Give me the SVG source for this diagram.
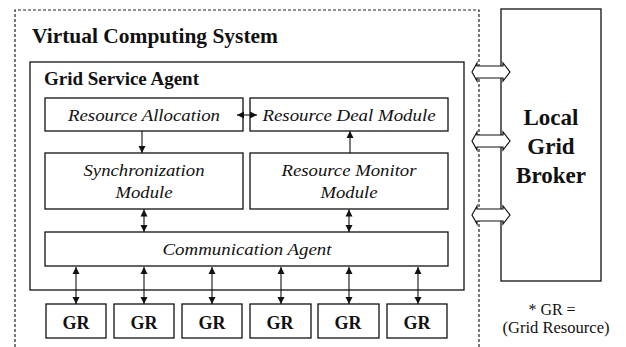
<svg xmlns="http://www.w3.org/2000/svg" width="626" height="347" viewBox="0 0 626 347">
<style>
.box{fill:#fff;stroke:#111;stroke-width:1.3}
.dash{fill:none;stroke:#222;stroke-width:1.2;stroke-dasharray:3,2}
.con{fill:none;stroke:#111;stroke-width:1.1}
.hol{fill:#fff;stroke:#111;stroke-width:1.2;stroke-linejoin:miter}
text{font-family:"Liberation Serif","Times New Roman",serif;fill:#111}
.it{font-style:italic;font-size:16px;text-anchor:middle}
.bd{font-weight:bold}
.gr{font-weight:bold;font-size:18px;text-anchor:middle}
.lgb{font-weight:bold;font-size:23px;text-anchor:middle}
.rg{font-size:16px;text-anchor:middle}
</style>
<defs>
<marker id="ah" markerUnits="userSpaceOnUse" markerWidth="8" markerHeight="8" refX="7" refY="3.5" orient="auto-start-reverse" viewBox="0 0 8 7">
<path d="M0,0 L7,3.5 L0,7 z" fill="#111"/>
</marker>
</defs>
<rect width="626" height="347" fill="#fff"/>

<g id="virtual-computing-system">
<path class="dash" d="M15,347 L15,10 L479,10 L479,347"/>
<text class="bd" x="32" y="43" font-size="21" textLength="246" lengthAdjust="spacingAndGlyphs">Virtual Computing System</text>
</g>

<g id="local-grid-broker">
<rect class="box" x="501" y="9" width="100" height="272"/>
<text class="lgb" x="551" y="125">Local</text>
<text class="lgb" x="551" y="154">Grid</text>
<text class="lgb" x="551" y="183">Broker</text>
</g>

<g id="grid-service-agent">
<rect class="box" x="30" y="62" width="434" height="228"/>
<text class="bd" x="44" y="85" font-size="18" textLength="155" lengthAdjust="spacingAndGlyphs">Grid Service Agent</text>
</g>

<g id="resource-allocation">
<rect class="box" x="45" y="98" width="198" height="33"/>
<text class="it" x="144" y="121" textLength="152" lengthAdjust="spacingAndGlyphs">Resource Allocation</text>
</g>

<g id="resource-deal-module">
<rect class="box" x="250" y="98" width="198" height="33"/>
<text class="it" x="349" y="121" textLength="173" lengthAdjust="spacingAndGlyphs">Resource Deal Module</text>
</g>

<g id="synchronization-module">
<rect class="box" x="45" y="153" width="198" height="56"/>
<text class="it" x="144" y="176" textLength="121" lengthAdjust="spacingAndGlyphs">Synchronization</text>
<text class="it" x="144" y="198" textLength="57" lengthAdjust="spacingAndGlyphs">Module</text>
</g>

<g id="resource-monitor-module">
<rect class="box" x="250" y="153" width="198" height="56"/>
<text class="it" x="349" y="176" textLength="135" lengthAdjust="spacingAndGlyphs">Resource Monitor</text>
<text class="it" x="349" y="198" textLength="57" lengthAdjust="spacingAndGlyphs">Module</text>
</g>

<g id="communication-agent">
<rect class="box" x="45" y="232" width="403" height="34"/>
<text class="it" x="247" y="255" textLength="169" lengthAdjust="spacingAndGlyphs">Communication Agent</text>
</g>

<g id="gr1"><rect class="box" x="46" y="304" width="60" height="34"/><text class="gr" x="76" y="329">GR</text></g>
<g id="gr2"><rect class="box" x="114" y="304" width="60" height="34"/><text class="gr" x="144" y="329">GR</text></g>
<g id="gr3"><rect class="box" x="182" y="304" width="60" height="34"/><text class="gr" x="212" y="329">GR</text></g>
<g id="gr4"><rect class="box" x="250" y="304" width="61" height="34"/><text class="gr" x="280" y="329">GR</text></g>
<g id="gr5"><rect class="box" x="318" y="304" width="61" height="34"/><text class="gr" x="348" y="329">GR</text></g>
<g id="gr6"><rect class="box" x="387" y="304" width="60" height="34"/><text class="gr" x="417" y="329">GR</text></g>

<g id="legend">
<text class="rg" x="552" y="315">* GR =</text>
<text class="rg" x="556" y="333" textLength="107" lengthAdjust="spacingAndGlyphs">(Grid Resource)</text>
</g>

<g id="connectors">
<path class="con" d="M237,115 L257,115" marker-start="url(#ah)" marker-end="url(#ah)"/>
<path class="con" d="M142,131 L142,153" marker-end="url(#ah)"/>
<path class="con" d="M350,153 L350,131" marker-end="url(#ah)"/>
<path class="con" d="M144,209.5 L144,232" marker-start="url(#ah)" marker-end="url(#ah)"/>
<path class="con" d="M349,209.5 L349,232" marker-start="url(#ah)" marker-end="url(#ah)"/>
<path class="con" d="M76,267 L76,304" marker-start="url(#ah)" marker-end="url(#ah)"/>
<path class="con" d="M144,267 L144,304" marker-start="url(#ah)" marker-end="url(#ah)"/>
<path class="con" d="M212,267 L212,304" marker-start="url(#ah)" marker-end="url(#ah)"/>
<path class="con" d="M281,267 L281,304" marker-start="url(#ah)" marker-end="url(#ah)"/>
<path class="con" d="M349,267 L349,304" marker-start="url(#ah)" marker-end="url(#ah)"/>
<path class="con" d="M418,267 L418,304" marker-start="url(#ah)" marker-end="url(#ah)"/>
<polygon class="hol" points="472,72 477,63 477,66 503,66 503,63 510,72 503,81 503,78 477,78 477,81"/>
<polygon class="hol" points="472,141 477,132 477,135 503,135 503,132 510,141 503,150 503,147 477,147 477,150"/>
<polygon class="hol" points="472,215 477,206 477,209 503,209 503,206 510,215 503,224 503,221 477,221 477,224"/>
</g>
</svg>
